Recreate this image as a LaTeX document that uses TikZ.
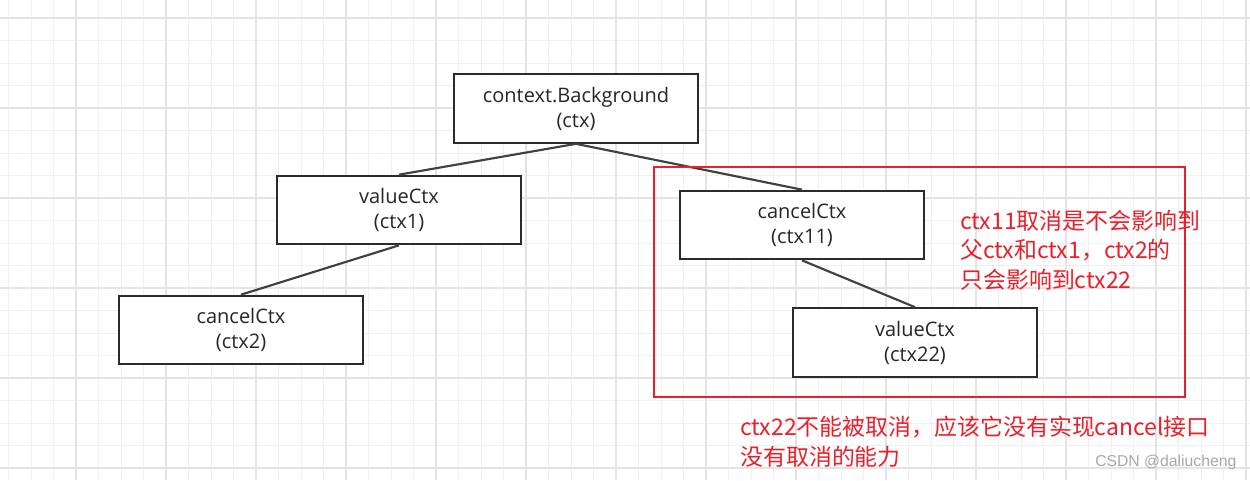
\documentclass[tikz,border=0pt]{standalone}
\usepackage{fontspec}
\setmainfont{Open Sans}
\newfontfamily\cjk{Noto Sans CJK SC}
\newfontfamily\wmfont{Liberation Sans}
\definecolor{gridminor}{HTML}{F0F0F0}
\definecolor{gridmajor}{HTML}{E4E4E4}
\definecolor{boxline}{HTML}{2B2B2B}
\definecolor{redline}{HTML}{E8202A}
\definecolor{wmgray}{HTML}{A8A8A8}
\tikzset{
  ctxbox/.style={draw=boxline, line width=1.5pt, fill=white, minimum width=183pt, minimum height=51.5pt,
    align=center, inner sep=0pt, font=\fontsize{15pt}{18.75pt}\selectfont, text=black!85},
  link/.style={draw=boxline!90, line width=1.6pt},
  rednote/.style={text=redline, align=left, inner sep=0pt, font=\cjk\fontsize{17.2pt}{22.1pt}\selectfont},
  watermark/.style={text=wmgray, anchor=west, inner sep=0pt, font=\wmfont\fontsize{11.8pt}{14pt}\selectfont},
}
\begin{document}
\begin{tikzpicture}[x=0.75pt,y=-0.75pt]
\useasboundingbox (0,0) rectangle (1250,480);
\fill[white] (0,0) rectangle (1250,480);
\foreach \i in {0,...,55} {
  \draw[gridminor, line width=0.75pt] ({8.5+22.5*\i},0) -- ({8.5+22.5*\i},480);
}
\foreach \j in {0,...,21} {
  \draw[gridminor, line width=0.75pt] (0,{18+22.5*\j}) -- (1250,{18+22.5*\j});
}
\foreach \i in {0,...,13} {
  \draw[gridmajor, line width=1pt] ({76+90*\i},0) -- ({76+90*\i},480);
}
\foreach \j in {0,...,5} {
  \draw[gridmajor, line width=1pt] (0,{18+90*\j}) -- (1250,{18+90*\j});
}

\node[ctxbox] (bg) at (576,108.5) {context.Background\\(ctx)};
\node[ctxbox] (c1) at (399,210) {valueCtx\\(ctx1)};
\node[ctxbox] (c2) at (241,330) {cancelCtx\\(ctx2)};
\node[ctxbox] (c11) at (802,225) {cancelCtx\\(ctx11)};
\node[ctxbox] (c22) at (915,342.5) {valueCtx\\(ctx22)};

\draw[link] (bg.south) -- (c1.north);
\draw[link] (bg.south) -- (c11.north);
\draw[link] (c1.south) -- (c2.north);
\draw[link] (c11.south) -- (c22.north);

\draw[redline, line width=1.5pt] (654,167) rectangle (1185,397);

\node[rednote, anchor=west] (note1) at (960,250) {ctx11取消是不会影响到\\父ctx和ctx1，ctx2的\\只会影响到ctx22};
\node[rednote, anchor=west] (note2) at (740,441.5) {ctx22不能被取消，应该它没有实现cancel接口\\没有取消的能力};

\node[watermark] (wmk) at (1095,462) {CSDN @daliucheng};
\end{tikzpicture}
\end{document}
